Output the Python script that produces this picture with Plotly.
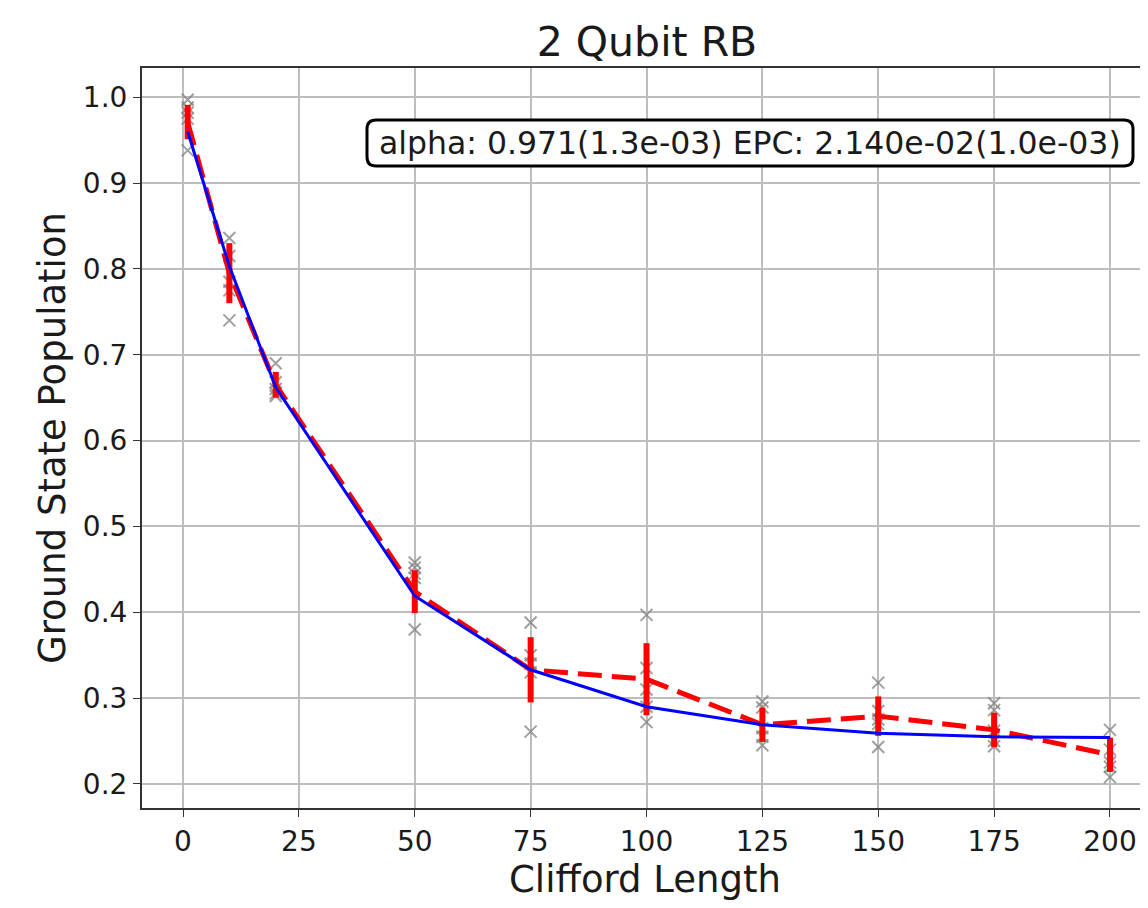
import plotly.graph_objects as go

# ---- data ----
lengths = [1, 10, 20, 50, 75, 100, 125, 150, 175, 200]

seed_values = [
    [0.997, 0.988, 0.982, 0.975, 0.938],
    [0.836, 0.815, 0.785, 0.775, 0.740],
    [0.690, 0.668, 0.660, 0.655, 0.652],
    [0.458, 0.452, 0.445, 0.440, 0.380],
    [0.388, 0.350, 0.340, 0.330, 0.261],
    [0.397, 0.335, 0.310, 0.290, 0.272],
    [0.296, 0.289, 0.265, 0.255, 0.245],
    [0.318, 0.285, 0.275, 0.270, 0.243],
    [0.294, 0.286, 0.262, 0.250, 0.244],
    [0.263, 0.240, 0.225, 0.220, 0.208],
]

mean_values = [0.971, 0.795, 0.665, 0.424, 0.333, 0.322, 0.269, 0.279, 0.263, 0.234]
std_values = [0.020, 0.035, 0.015, 0.025, 0.038, 0.042, 0.020, 0.023, 0.020, 0.020]

fit_values = [0.960, 0.803, 0.662, 0.419, 0.333, 0.290, 0.269, 0.259, 0.255, 0.254]

x_ticks = [0, 25, 50, 75, 100, 125, 150, 175, 200]
y_ticks = [0.2, 0.3, 0.4, 0.5, 0.6, 0.7, 0.8, 0.9, 1.0]

title_text = "2 Qubit RB"
x_label = "Clifford Length"
y_label = "Ground State Population"
fit_text = "alpha: 0.971(1.3e-03) EPC: 2.140e-02(1.0e-03)"

# ---- build figure ----
FONT = "DejaVu Sans"
TXT = "#1a1a1a"
W, H = 1140, 900
ML, MR, MT, MB = 134, 0, 60, 100
PW, PH = W - ML - MR, H - MT - MB

seed_x = [L for L, vals in zip(lengths, seed_values) for _ in vals]
seed_y = [v for vals in seed_values for v in vals]

fig = go.Figure()
fig.add_trace(go.Scatter(
    x=seed_x, y=seed_y, mode="markers",
    marker=dict(symbol="x-thin", size=12, line=dict(width=2, color="rgba(128,128,128,0.75)")),
    showlegend=False, hoverinfo="skip",
))
fig.add_trace(go.Scatter(
    x=lengths, y=mean_values, mode="lines",
    line=dict(color="red", width=5, dash="24px,10px"),
    error_y=dict(type="data", array=std_values, visible=True, color="red", thickness=6, width=0),
    showlegend=False,
))
fig.add_trace(go.Scatter(
    x=lengths, y=fit_values, mode="lines",
    line=dict(color="blue", width=3),
    showlegend=False,
))

# rounded text box (pixel box converted to paper coords)
bx0, bx1, by0, by1, rad = 359, 1125, 112, 158, 9
x0 = (bx0 - ML) / PW
x1 = (bx1 - ML) / PW
yt = 1 - (by0 - MT) / PH
yb = 1 - (by1 - MT) / PH
rx, ry = rad / PW, rad / PH
path = (f"M {x0+rx},{yt} L {x1-rx},{yt} Q {x1},{yt} {x1},{yt-ry} "
        f"L {x1},{yb+ry} Q {x1},{yb} {x1-rx},{yb} L {x0+rx},{yb} "
        f"Q {x0},{yb} {x0},{yb+ry} L {x0},{yt-ry} Q {x0},{yt} {x0+rx},{yt} Z")
fig.add_shape(type="path", path=path, xref="paper", yref="paper",
              fillcolor="white", line=dict(color="black", width=3), layer="above")

fig.add_annotation(
    xref="paper", yref="paper", x=(x0 + x1) / 2, y=(yt + yb) / 2,
    text=fit_text, showarrow=False,
    font=dict(family=FONT, size=31.5, color=TXT),
    xanchor="center", yanchor="middle",
)

fig.update_layout(
    width=W, height=H,
    margin=dict(l=ML, r=MR, t=MT, b=MB),
    paper_bgcolor="white", plot_bgcolor="white",
    font=dict(family=FONT, color=TXT),
    title=dict(text=title_text, x=(647 - 8) / W, xanchor="center",
               y=1 - (42 - 8) / H, yanchor="middle",
               font=dict(family=FONT, size=41, color=TXT)),
)
fig.update_xaxes(
    range=[-8.85, 208.2], tickvals=x_ticks, ticktext=[str(t) for t in x_ticks],
    showgrid=True, gridcolor="#bdbdbd", gridwidth=1.5,
    showline=True, linecolor="#333", linewidth=2, mirror=True,
    ticks="outside", ticklen=7, tickcolor="#333",
    tickfont=dict(family=FONT, size=28, color=TXT),
    title=dict(text=x_label, font=dict(family=FONT, size=37, color=TXT), standoff=4),
    zeroline=False,
)
fig.update_yaxes(
    range=[0.172, 1.034], tickvals=y_ticks, ticktext=[f"{t:.1f}" for t in y_ticks],
    showgrid=True, gridcolor="#bdbdbd", gridwidth=1.5,
    showline=True, linecolor="#333", linewidth=2,
    ticks="outside", ticklen=7, tickcolor="#333",
    tickfont=dict(family=FONT, size=28, color=TXT),
    title=dict(text=y_label, font=dict(family=FONT, size=37, color=TXT), standoff=6),
    zeroline=False,
)

fig.write_html("out.html")
